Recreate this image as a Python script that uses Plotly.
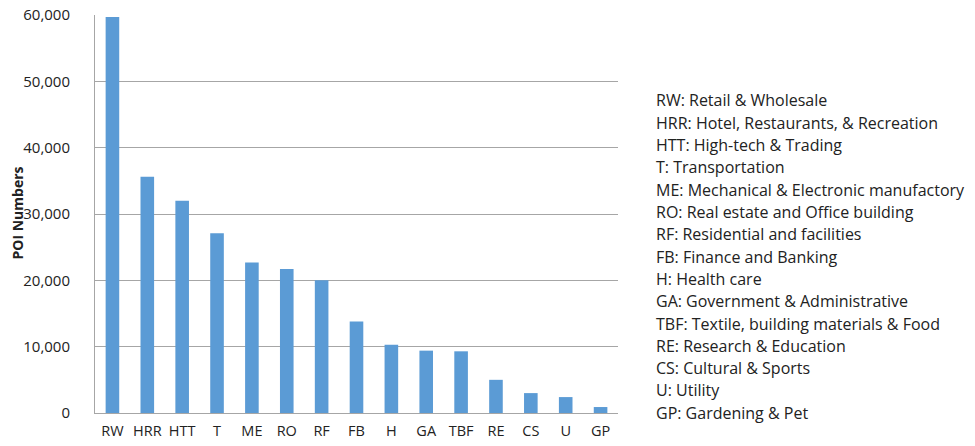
import plotly.graph_objects as go

categories = ["RW", "HRR", "HTT", "T", "ME", "RO", "RF", "FB", "H", "GA", "TBF", "RE", "CS", "U", "GP"]
poi_numbers = [59700, 35600, 32000, 27100, 22700, 21700, 20000, 13800, 10300, 9400, 9300, 5000, 3000, 2400, 900]
descriptions = [
    "Retail & Wholesale",
    "Hotel, Restaurants, & Recreation",
    "High-tech & Trading",
    "Transportation",
    "Mechanical & Electronic manufactory",
    "Real estate and Office building",
    "Residential and facilities",
    "Finance and Banking",
    "Health care",
    "Government & Administrative",
    "Textile, building materials & Food",
    "Research & Education",
    "Cultural & Sports",
    "Utility",
    "Gardening & Pet",
]
y_ticks = [0, 10000, 20000, 30000, 40000, 50000, 60000]
y_title = "POI Numbers"

FONT = "Open Sans, Lato, sans-serif"

fig = go.Figure(go.Bar(
    x=categories, y=poi_numbers,
    marker=dict(color="#5b9bd5", line=dict(width=0)),
))

W, H = 975, 446
ml, mr, mt, mb = 95, 357, 15, 33
pw, ph = W - ml - mr, H - mt - mb

annotations = []
first_y, step = 100.5, 22.3
for i, (c, d) in enumerate(zip(categories, descriptions)):
    ypx = first_y + i * step
    annotations.append(dict(
        text=f"{c}: {d}", xref="paper", yref="paper",
        x=(654 - ml) / pw, y=1 - (ypx - mt) / ph,
        xanchor="left", yanchor="middle", showarrow=False,
        font=dict(family=FONT, size=16, color="#222"),
    ))

annotations.append(dict(
    text=f"<b>{y_title}</b>", xref="paper", yref="paper",
    x=(16.5 - ml) / pw, y=1 - (213 - mt) / ph, textangle=-90,
    xanchor="center", yanchor="middle", showarrow=False,
    font=dict(family=FONT, size=14, color="#222"),
))

fig.update_layout(
    width=W, height=H,
    margin=dict(l=ml, r=mr, t=mt, b=mb, autoexpand=False),
    paper_bgcolor="white", plot_bgcolor="white",
    bargap=0.61,
    showlegend=False,
    font=dict(family=FONT, size=14, color="#222"),
    annotations=annotations,
    xaxis=dict(showgrid=False, showline=True, linecolor="#a6a6a6", linewidth=1,
               automargin=False, ticks="", ticklabelstandoff=5,
               tickfont=dict(size=14.5, color="#222")),
    yaxis=dict(range=[0, 60000], tickvals=y_ticks, tickformat=",",
               showgrid=True, gridcolor="#a6a6a6", gridwidth=1,
               showline=True, linecolor="#a6a6a6", linewidth=1,
               automargin=False,
               zeroline=False, ticks="", ticklabelstandoff=21,
               tickfont=dict(size=15, color="#222")),
)

fig.write_html("out.html", config={"displayModeBar": False},
               post_script="document.body.style.margin='0';")
